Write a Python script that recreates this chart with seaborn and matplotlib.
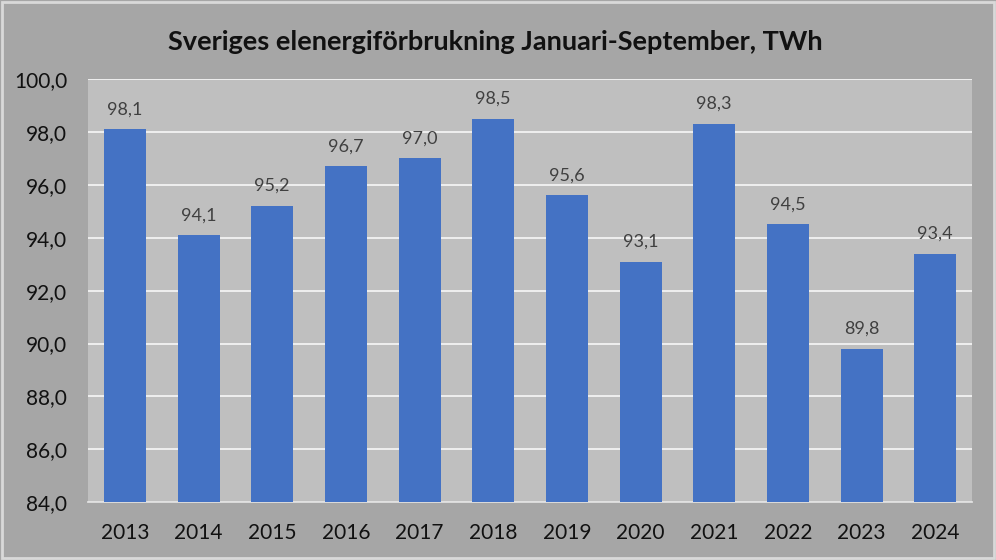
import matplotlib
matplotlib.use("Agg")
import matplotlib.pyplot as plt
import seaborn as sns
import pandas as pd

# Data
years = ['2013', '2014', '2015', '2016', '2017', '2018',
         '2019', '2020', '2021', '2022', '2023', '2024']
consumption = [98.1, 94.1, 95.2, 96.7, 97.0, 98.5,
               95.6, 93.1, 98.3, 94.5, 89.8, 93.4]
y_ticks = [84, 86, 88, 90, 92, 94, 96, 98, 100]

df = pd.DataFrame({'year': years, 'twh': consumption})

sns.set_style('white')
plt.rcParams['font.family'] = ['Lato', 'DejaVu Sans']

fig = plt.figure(figsize=(9.96, 5.6), dpi=100, facecolor='#a6a6a6')
ax = fig.add_axes([0.0884, 0.103, 0.8876, 0.756])
ax.set_facecolor('#bfbfbf')

sns.barplot(data=df, x='year', y='twh', color='#4472c4', saturation=1,
            width=0.57, linewidth=0, ax=ax, zorder=3)

ax.set_ylim(84, 100)
ax.set_yticks(y_ticks)
ax.set_yticklabels([f"{v:.1f}".replace('.', ',') for v in y_ticks])
ax.yaxis.grid(True, color='#f2f2f2', linewidth=1.3, zorder=0)
ax.set_axisbelow(True)
ax.set_xlabel('')
ax.set_ylabel('')
ax.tick_params(axis='both', length=0, labelsize=15, colors='#111111')
ax.tick_params(axis='x', pad=15)
ax.tick_params(axis='y', pad=15)

for s in ['top', 'right', 'left']:
    ax.spines[s].set_visible(False)
ax.spines['bottom'].set_color('#e0e0e0')
ax.spines['bottom'].set_linewidth(1.3)

for i, v in enumerate(consumption):
    ax.text(i, v + 0.45, f"{v:.1f}".replace('.', ','), ha='center', va='bottom',
            fontsize=13, color='#404040')

fig.text(0.497, 0.925, 'Sveriges elenergiförbrukning Januari-September, TWh',
         ha='center', va='center', fontsize=19.5, fontweight='bold', color='#111111')

# light frame around the whole chart
fig.patches.append(plt.Rectangle((0.002, 0.004), 0.996, 0.992, transform=fig.transFigure,
                                 fill=False, edgecolor='#d9d9d9', linewidth=2))

fig.savefig('out.png', dpi=100, facecolor=fig.get_facecolor())
